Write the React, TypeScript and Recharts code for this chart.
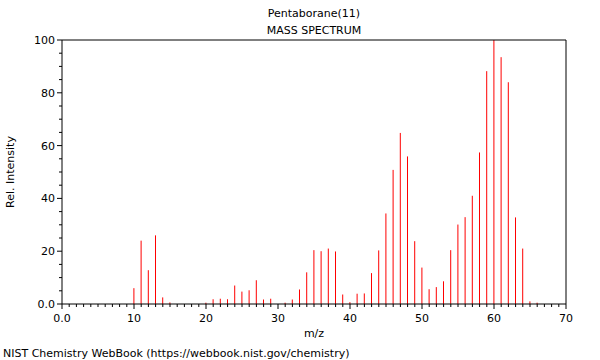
import React from "react";
import { BarChart, Bar, XAxis, YAxis, ReferenceLine } from "recharts";

// m/z peaks
const mz = [
  10, 11, 12, 13, 14, 15, 20, 21, 22, 23, 24, 25, 26, 27, 28, 29, 31, 32, 33, 34,
  35, 36, 37, 38, 39, 40, 41, 42, 43, 44, 45, 46, 47, 48, 49, 50, 51, 52, 53, 54,
  55, 56, 57, 58, 59, 60, 61, 62, 63, 64, 65, 66,
];
const intensity = [
  6, 24, 12.8, 26, 2.5, 0.6, 0.5, 1.8, 2, 1.8, 7, 4.7, 5.2, 9, 1.7, 2, 0.5, 1.7, 5.5, 12,
  20.4, 20, 21, 19.9, 3.6, 0.7, 3.9, 4, 11.7, 20.3, 34.3, 50.8, 64.8, 55.9, 23.8, 13.8, 5.6, 6.4, 8.6, 20.4,
  30.1, 32.9, 41, 57.4, 88.2, 100, 93.5, 84, 32.8, 21, 1, 0.5,
];

const xTicks = Array.from({ length: 71 }, (_, i) => i);
const yTicks = Array.from({ length: 21 }, (_, i) => i * 5);
const xLabel = (v: number) => (v === 0 ? "0.0" : String(v));
const yLabel = (v: number) => (v === 0 ? "0.0" : String(v));

const data = mz.map((m, i) => ({ mz: m, rel: intensity[i] }));

const FONT = "DejaVu Sans, sans-serif";
const INK = "#000";

const XTick = ({ x, y, payload }: any) => {
  const major = payload.value % 10 === 0;
  return (
    <g>
      <line x1={x} x2={x} y1={y} y2={y + (major ? 5 : 3)} stroke={INK} />
      {major && (
        <text x={x} y={y + 18} textAnchor="middle" fontSize={11} fontFamily={FONT} fill={INK}>
          {xLabel(payload.value)}
        </text>
      )}
    </g>
  );
};

const YTick = ({ x, y, payload }: any) => {
  const major = payload.value % 20 === 0;
  return (
    <g>
      <line x1={x - (major ? 5 : 3)} x2={x} y1={y} y2={y} stroke={INK} />
      {major && (
        <text x={x - 7} y={y + 4} textAnchor="end" fontSize={11} fontFamily={FONT} fill={INK}>
          {yLabel(payload.value)}
        </text>
      )}
    </g>
  );
};

const Stick = ({ x, y, width, height }: any) => (
  <rect x={x + width / 2 - 0.5} y={y} width={1} height={height} fill="#ff0000" />
);

export default function App() {
  return (
    <div style={{ position: "absolute", left: 0, top: 0, width: 600, height: 360, background: "#fff" }}>
      <BarChart
        width={600}
        height={360}
        data={data}
        margin={{ top: 40, right: 34, left: 0, bottom: 0 }}
      >
        <XAxis
          dataKey="mz"
          type="number"
          domain={[0, 70]}
          ticks={xTicks}
          interval={0}
          tick={<XTick />}
          tickLine={false}
          tickSize={0}
          tickMargin={0}
          height={56}
          axisLine={{ stroke: INK }}
          allowDecimals={false}
        />
        <YAxis
          type="number"
          domain={[0, 100]}
          ticks={yTicks}
          interval={0}
          tick={<YTick />}
          tickLine={false}
          tickSize={0}
          tickMargin={0}
          width={62}
          axisLine={{ stroke: INK }}
        />
        <ReferenceLine y={100} stroke={INK} ifOverflow="visible" />
        <ReferenceLine x={70} stroke={INK} ifOverflow="visible" />
        <Bar dataKey="rel" barSize={1} shape={<Stick />} isAnimationActive={false} />
      </BarChart>
      <svg
        width={600}
        height={360}
        style={{ position: "absolute", left: 0, top: 0, pointerEvents: "none" }}
        fontFamily={FONT}
        fontSize={11}
        fill={INK}
      >
        <text x={314} y={17} textAnchor="middle">Pentaborane(11)</text>
        <text x={314} y={34} textAnchor="middle">MASS SPECTRUM</text>
        <text x={314} y={337} textAnchor="middle">m/z</text>
        <text x={14} y={172} textAnchor="middle" transform="rotate(-90 14 172)">Rel. Intensity</text>
        <text x={3} y={357}>NIST Chemistry WebBook (https://webbook.nist.gov/chemistry)</text>
      </svg>
    </div>
  );
}
